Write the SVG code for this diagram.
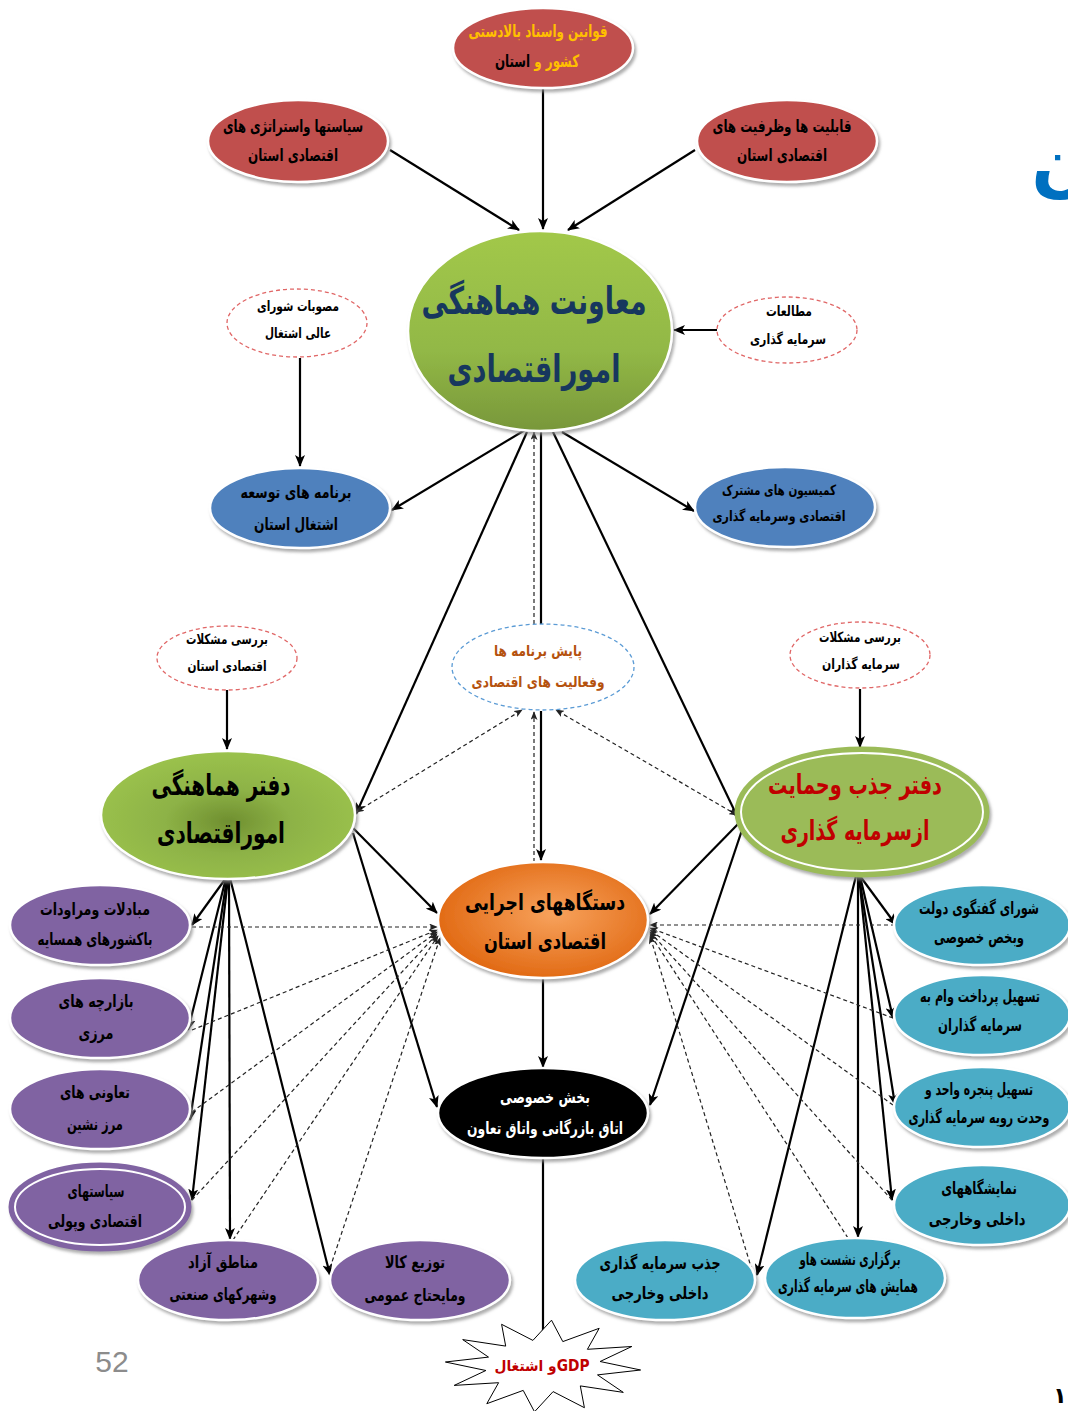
<svg xmlns="http://www.w3.org/2000/svg" width="1068" height="1411" viewBox="0 0 1068 1411">
<defs>
<style>
text{font-family:"DejaVu Sans",sans-serif;font-weight:bold;text-anchor:middle;direction:rtl;}
.n{stroke:#ffffff;stroke-width:2.5;filter:url(#sh);}
.red{fill:#c0504d;}
.blue{fill:#4f81bd;}
.pur{fill:#8064a2;}
.cyan{fill:#4bacc6;}
.dr{fill:#ffffff;stroke:#e06666;stroke-width:1.3;stroke-dasharray:4,3;}
.db{fill:#ffffff;stroke:#5b9bd5;stroke-width:1.3;stroke-dasharray:4,3;}
.s{stroke:#000;stroke-width:2.2;fill:none;marker-end:url(#a);}
.d{stroke:#222;stroke-width:1.2;fill:none;stroke-dasharray:4,3;marker-end:url(#ad);}
.dd{stroke:#222;stroke-width:1.2;fill:none;stroke-dasharray:4,3;marker-end:url(#ad);marker-start:url(#ad);}
.t16{font-size:17px;fill:#000;}
.t14{font-size:14px;fill:#000;}
</style>
<filter id="sh" x="-10%" y="-10%" width="125%" height="130%">
<feDropShadow dx="2" dy="3" stdDeviation="1.5" flood-color="#8c8c8c" flood-opacity="0.7"/>
</filter>
<marker id="a" viewBox="0 0 12 10" refX="11" refY="5" markerWidth="12" markerHeight="10" markerUnits="userSpaceOnUse" orient="auto-start-reverse">
<path d="M0,0 L12,5 L0,10 L3,5 z" fill="#000"/>
</marker>
<marker id="ad" viewBox="0 0 10 8" refX="9" refY="4" markerWidth="9" markerHeight="7" markerUnits="userSpaceOnUse" orient="auto-start-reverse">
<path d="M0,0 L10,4 L0,8 L2.5,4 z" fill="#222"/>
</marker>
<linearGradient id="gMain" x1="0" y1="0" x2="0" y2="1">
<stop offset="0" stop-color="#a2c84a"/>
<stop offset="0.6" stop-color="#92b846"/>
<stop offset="1" stop-color="#78973a"/>
</linearGradient>
<radialGradient id="gLeft" cx="0.5" cy="0.55" r="0.55">
<stop offset="0" stop-color="#6f8f30"/>
<stop offset="0.45" stop-color="#8db246"/>
<stop offset="1" stop-color="#9bc24d"/>
</radialGradient>
<radialGradient id="gOr" cx="0.55" cy="0.45" r="0.6">
<stop offset="0" stop-color="#f7a25c"/>
<stop offset="1" stop-color="#e0660f"/>
</radialGradient>
</defs>
<rect width="1068" height="1411" fill="#ffffff"/>

<g id="connectors">
<line class="s" x1="543" y1="89" x2="543" y2="229"/>
<line class="s" x1="390" y1="150" x2="519" y2="230"/>
<line class="s" x1="695" y1="150" x2="568" y2="230"/>
<line class="s" x1="717" y1="330" x2="674" y2="330"/>
<line class="s" x1="300" y1="358" x2="300" y2="466"/>
<line class="s" x1="525" y1="430" x2="392" y2="510"/>
<line class="s" x1="562" y1="432" x2="694" y2="511"/>
<line class="s" x1="527" y1="432" x2="356" y2="814"/>
<line class="s" x1="553" y1="432" x2="738" y2="818"/>
<line x1="541" y1="432" x2="541" y2="624" stroke="#000" stroke-width="2.2"/>
<line class="s" x1="541" y1="711" x2="541" y2="860"/>
<line class="d" x1="534" y1="862" x2="534" y2="712"/>
<line class="d" x1="534" y1="624" x2="534" y2="432"/>
<line class="dd" x1="356" y1="812" x2="522" y2="710"/>
<line class="dd" x1="737" y1="815" x2="556" y2="710"/>
<line class="s" x1="227" y1="690" x2="227" y2="749"/>
<line class="s" x1="860" y1="689" x2="860" y2="747"/>
<line class="s" x1="353" y1="828" x2="437" y2="913"/>
<line class="s" x1="353" y1="833" x2="437" y2="1107"/>
<line class="s" x1="740" y1="822" x2="650" y2="914"/>
<line class="s" x1="742" y1="830" x2="650" y2="1105"/>
<line class="s" x1="543" y1="978" x2="543" y2="1067"/>
<line class="s" x1="543" y1="1158" x2="543" y2="1345"/>
<line class="s" x1="226" y1="878" x2="192" y2="925"/>
<line class="s" x1="226" y1="878" x2="188" y2="1030"/>
<line class="s" x1="227" y1="878" x2="190" y2="1120"/>
<line class="s" x1="228" y1="878" x2="192" y2="1200"/>
<line class="s" x1="229" y1="878" x2="230" y2="1239"/>
<line class="s" x1="230" y1="878" x2="330" y2="1275"/>
<line class="s" x1="860" y1="876" x2="896" y2="925"/>
<line class="s" x1="860" y1="876" x2="893" y2="1018"/>
<line class="s" x1="859" y1="876" x2="895" y2="1105"/>
<line class="s" x1="859" y1="876" x2="892" y2="1200"/>
<line class="s" x1="858" y1="876" x2="858" y2="1237"/>
<line class="s" x1="856" y1="876" x2="757" y2="1275"/>
<line class="d" x1="192" y1="927" x2="437" y2="927"/>
<line class="d" x1="192" y1="1030" x2="437" y2="930"/>
<line class="d" x1="192" y1="1112" x2="437" y2="932"/>
<line class="d" x1="192" y1="1200" x2="437" y2="934"/>
<line class="d" x1="233" y1="1240" x2="438" y2="936"/>
<line class="d" x1="330" y1="1268" x2="440" y2="938"/>
<line class="d" x1="895" y1="925" x2="650" y2="925"/>
<line class="d" x1="893" y1="1018" x2="650" y2="928"/>
<line class="d" x1="893" y1="1105" x2="650" y2="930"/>
<line class="d" x1="892" y1="1200" x2="650" y2="932"/>
<line class="d" x1="848" y1="1238" x2="650" y2="934"/>
<line class="d" x1="752" y1="1270" x2="650" y2="936"/>
</g>

<g id="n-qavanin">
<ellipse class="n red" cx="543" cy="48" rx="90" ry="40"/>
<text x="538" y="37" font-size="17" fill="#ffc000" textLength="139" lengthAdjust="spacingAndGlyphs">قوانین واسناد بالادستی</text>
<text transform="translate(537,67) scale(0.7,1)" x="0" y="0" font-size="17"><tspan fill="#ffc000">کشور و </tspan><tspan fill="#000">استان</tspan></text>
</g>
<g id="n-siasat">
<ellipse class="n red" cx="298" cy="141" rx="90" ry="41"/>
<text class="t16" x="293" y="132" textLength="140" lengthAdjust="spacingAndGlyphs">سیاستها واستراتژی های</text>
<text class="t16" x="293" y="161" textLength="90" lengthAdjust="spacingAndGlyphs">اقتصادی استان</text>
</g>
<g id="n-qabeliat">
<ellipse class="n red" cx="787" cy="141" rx="90" ry="41"/>
<text class="t16" x="782" y="132" textLength="139" lengthAdjust="spacingAndGlyphs">قابلیت ها وظرفیت های</text>
<text class="t16" x="782" y="161" textLength="90" lengthAdjust="spacingAndGlyphs">اقتصادی استان</text>
</g>
<g id="n-moavenat">
<ellipse class="n" cx="540" cy="331" rx="132" ry="100" fill="url(#gMain)"/>
<text x="534" y="314" font-size="38" fill="#17375e" textLength="225" lengthAdjust="spacingAndGlyphs">معاونت هماهنگی</text>
<text x="534" y="382" font-size="38" fill="#17375e" textLength="173" lengthAdjust="spacingAndGlyphs">اموراقتصادی</text>
</g>
<g id="n-mosavabat">
<ellipse class="dr" cx="297" cy="323" rx="70" ry="34"/>
<text class="t14" x="298" y="311" textLength="82" lengthAdjust="spacingAndGlyphs">مصوبات شورای</text>
<text class="t14" x="298" y="338" textLength="66" lengthAdjust="spacingAndGlyphs">عالی اشتغال</text>
</g>
<g id="n-motaleat">
<ellipse class="dr" cx="787" cy="330" rx="70" ry="33"/>
<text class="t14" x="789" y="316" textLength="46" lengthAdjust="spacingAndGlyphs">مطالعات</text>
<text class="t14" x="788" y="344" textLength="76" lengthAdjust="spacingAndGlyphs">سرمایه گذاری</text>
</g>
<g id="n-barname">
<ellipse class="n blue" cx="300" cy="508" rx="90" ry="40"/>
<text class="t16" x="296" y="498" textLength="111" lengthAdjust="spacingAndGlyphs">برنامه های توسعه</text>
<text class="t16" x="296" y="530" textLength="84" lengthAdjust="spacingAndGlyphs">اشتغال استان</text>
</g>
<g id="n-komision">
<ellipse class="n blue" cx="785" cy="507" rx="90" ry="40"/>
<text class="t14" x="779" y="495" textLength="114" lengthAdjust="spacingAndGlyphs">کمیسیون های مشترک</text>
<text class="t14" x="779" y="521" textLength="133" lengthAdjust="spacingAndGlyphs">اقتصادی وسرمایه گذاری</text>
</g>
<g id="n-baresi1">
<ellipse class="dr" cx="227" cy="658" rx="70" ry="32"/>
<text class="t14" x="227" y="644" textLength="82" lengthAdjust="spacingAndGlyphs">بررسی مشکلات</text>
<text class="t14" x="227" y="671" textLength="79" lengthAdjust="spacingAndGlyphs">اقتصادی استان</text>
</g>
<g id="n-baresi2">
<ellipse class="dr" cx="860" cy="655" rx="70" ry="33"/>
<text class="t14" x="860" y="642" textLength="82" lengthAdjust="spacingAndGlyphs">بررسی مشکلات</text>
<text class="t14" x="861" y="669" textLength="78" lengthAdjust="spacingAndGlyphs">سرمایه گذاران</text>
</g>
<g id="n-payesh">
<ellipse class="db" cx="543" cy="667" rx="91" ry="43"/>
<text x="538" y="656" font-size="15" fill="#b5520e" textLength="88" lengthAdjust="spacingAndGlyphs">پایش برنامه ها</text>
<text x="538" y="687" font-size="15" fill="#b5520e" textLength="133" lengthAdjust="spacingAndGlyphs">وفعالیت های اقتصادی</text>
</g>
<g id="n-daftar1">
<ellipse class="n" cx="228" cy="815" rx="127" ry="64" fill="url(#gLeft)"/>
<text x="221" y="795" font-size="29" fill="#000" textLength="139" lengthAdjust="spacingAndGlyphs">دفتر هماهنگی</text>
<text x="221" y="843" font-size="29" fill="#000" textLength="128" lengthAdjust="spacingAndGlyphs">اموراقتصادی</text>
</g>
<g id="n-daftar2">
<ellipse cx="862" cy="812" rx="126" ry="64" fill="#9bbb59" stroke="#9bbb59" stroke-width="3" filter="url(#sh)"/>
<ellipse cx="862" cy="812" rx="121" ry="59" fill="none" stroke="#ffffff" stroke-width="2"/>
<text x="855" y="794" font-size="27" fill="#c00000" textLength="174" lengthAdjust="spacingAndGlyphs">دفتر جذب وحمایت</text>
<text x="855" y="840" font-size="27" fill="#c00000" textLength="149" lengthAdjust="spacingAndGlyphs">ازسرمایه گذاری</text>
</g>
<g id="n-dastgah">
<ellipse class="n" cx="543" cy="920" rx="105" ry="58" fill="url(#gOr)"/>
<text x="545" y="910" font-size="23" fill="#000" textLength="160" lengthAdjust="spacingAndGlyphs">دستگاههای اجرایی</text>
<text x="545" y="949" font-size="23" fill="#000" textLength="122" lengthAdjust="spacingAndGlyphs">اقتصادی استان</text>
</g>
<g id="n-bakhsh">
<ellipse class="n" cx="543" cy="1113" rx="105" ry="45" fill="#000"/>
<text x="545" y="1103" font-size="17" fill="#fff" textLength="90" lengthAdjust="spacingAndGlyphs">بخش خصوصی</text>
<text x="545" y="1134" font-size="17" fill="#fff" textLength="156" lengthAdjust="spacingAndGlyphs">اتاق بازرگانی واتاق تعاون</text>
</g>
<g id="n-gdp">
<polygon points="640.6,1370 597.5,1374.9 623.3,1392.4 580.3,1385.9 584.4,1407.7 553.1,1391.6 534.5,1411.8 523.2,1390.4 486.8,1403.7 498.6,1382.7 454.2,1385.4 485.9,1370.5 445.4,1362 488.5,1357.1 462.7,1339.6 505.7,1346.1 501.6,1324.3 532.9,1340.4 551.5,1320.2 562.8,1341.6 599.2,1328.3 587.4,1349.3 631.8,1346.5 600.1,1361.5" fill="#fff" stroke="#000" stroke-width="1"/>
<text x="542" y="1371" font-size="15" fill="#c00000" textLength="95" lengthAdjust="spacingAndGlyphs">GDPو اشتغال</text>
</g>
<g id="n-mobadelat">
<ellipse class="n pur" cx="100" cy="925" rx="90" ry="40"/>
<text class="t16" x="95" y="915" textLength="110" lengthAdjust="spacingAndGlyphs">مبادلات ومراودات</text>
<text class="t16" x="95" y="945" textLength="115" lengthAdjust="spacingAndGlyphs">باکشورهای همسایه</text>
</g>
<g id="n-bazarche">
<ellipse class="n pur" cx="100" cy="1018" rx="90" ry="40"/>
<text class="t16" x="96" y="1007" textLength="75" lengthAdjust="spacingAndGlyphs">بازارچه های</text>
<text class="t16" x="96" y="1039" textLength="35" lengthAdjust="spacingAndGlyphs">مرزی</text>
</g>
<g id="n-taavoni">
<ellipse class="n pur" cx="100" cy="1109" rx="90" ry="40"/>
<text class="t16" x="95" y="1098" textLength="70" lengthAdjust="spacingAndGlyphs">تعاونی های</text>
<text class="t16" x="95" y="1130" textLength="56" lengthAdjust="spacingAndGlyphs">مرز نشین</text>
</g>
<g id="n-siasathaye">
<ellipse class="pur" cx="100" cy="1207" rx="90" ry="43" stroke="#8064a2" stroke-width="3" filter="url(#sh)"/>
<ellipse cx="100" cy="1207" rx="85" ry="38" fill="none" stroke="#fff" stroke-width="2"/>
<text class="t16" x="96" y="1197" textLength="57" lengthAdjust="spacingAndGlyphs">سیاستهای</text>
<text class="t16" x="95" y="1227" textLength="94" lengthAdjust="spacingAndGlyphs">اقتصادی وپولی</text>
</g>
<g id="n-manategh">
<ellipse class="n pur" cx="228" cy="1280" rx="90" ry="40"/>
<text class="t16" x="223" y="1268" textLength="70" lengthAdjust="spacingAndGlyphs">مناطق آزاد</text>
<text class="t16" x="223" y="1300" textLength="107" lengthAdjust="spacingAndGlyphs">وشهرکهای صنعتی</text>
</g>
<g id="n-tozi">
<ellipse class="n pur" cx="420" cy="1280" rx="90" ry="40"/>
<text class="t16" x="415" y="1268" textLength="60" lengthAdjust="spacingAndGlyphs">توزیع کالا</text>
<text class="t16" x="415" y="1301" textLength="101" lengthAdjust="spacingAndGlyphs">ومایحتاج عمومی</text>
</g>
<g id="n-shora">
<ellipse class="n cyan" cx="982" cy="925" rx="88" ry="40"/>
<text class="t16" transform="translate(979,914) scale(0.75,1)" x="0" y="0" textLength="160" lengthAdjust="spacingAndGlyphs">شورای گفتگوی دولت</text>
<text class="t16" transform="translate(979,943) scale(0.75,1)" x="0" y="0" textLength="120" lengthAdjust="spacingAndGlyphs">وبخص خصوصی</text>
</g>
<g id="n-tashil1">
<ellipse class="n cyan" cx="982" cy="1015" rx="88" ry="40"/>
<text class="t16" transform="translate(980,1002) scale(0.75,1)" x="0" y="0" textLength="160" lengthAdjust="spacingAndGlyphs">تسهیل پرداخت وام به</text>
<text class="t16" transform="translate(980,1031) scale(0.75,1)" x="0" y="0" textLength="112" lengthAdjust="spacingAndGlyphs">سرمایه گذاران</text>
</g>
<g id="n-tashil2">
<ellipse class="n cyan" cx="982" cy="1107" rx="88" ry="40"/>
<text class="t16" transform="translate(979,1095) scale(0.75,1)" x="0" y="0" textLength="144" lengthAdjust="spacingAndGlyphs">تسهیل پنجره واحد و</text>
<text class="t16" transform="translate(979,1123) scale(0.75,1)" x="0" y="0" textLength="188" lengthAdjust="spacingAndGlyphs">وحدت رویه سرمایه گذاری</text>
</g>
<g id="n-namayesh">
<ellipse class="n cyan" cx="982" cy="1205" rx="88" ry="40"/>
<text class="t16" transform="translate(979,1194) scale(0.75,1)" x="0" y="0" textLength="101" lengthAdjust="spacingAndGlyphs">نمایشگاههای</text>
<text class="t16" transform="translate(977,1225) scale(0.75,1)" x="0" y="0" textLength="129" lengthAdjust="spacingAndGlyphs">داخلی وخارجی</text>
</g>
<g id="n-jazb">
<ellipse class="n cyan" cx="665" cy="1280" rx="90" ry="40"/>
<text class="t16" x="660" y="1269" textLength="121" lengthAdjust="spacingAndGlyphs">جذب سرمایه گذاری</text>
<text class="t16" x="660" y="1299" textLength="97" lengthAdjust="spacingAndGlyphs">داخلی وخارجی</text>
</g>
<g id="n-bargozari">
<ellipse class="n cyan" cx="855" cy="1278" rx="90" ry="40"/>
<text class="t16" x="850" y="1265" textLength="101" lengthAdjust="spacingAndGlyphs">برگزاری نشست هاو</text>
<text class="t16" x="848" y="1292" textLength="140" lengthAdjust="spacingAndGlyphs">همایش های سرمایه گذاری</text>
</g>

<text x="112" y="1372" style="font-family:'Liberation Sans',sans-serif;font-weight:normal;font-size:30px;fill:#8c8c8c;direction:ltr">52</text>
<text x="1062" y="188" style="font-size:72px;fill:#0070c0">ن</text>
<text x="1060" y="1403" style="font-size:22px;fill:#000">۱</text>
</svg>
